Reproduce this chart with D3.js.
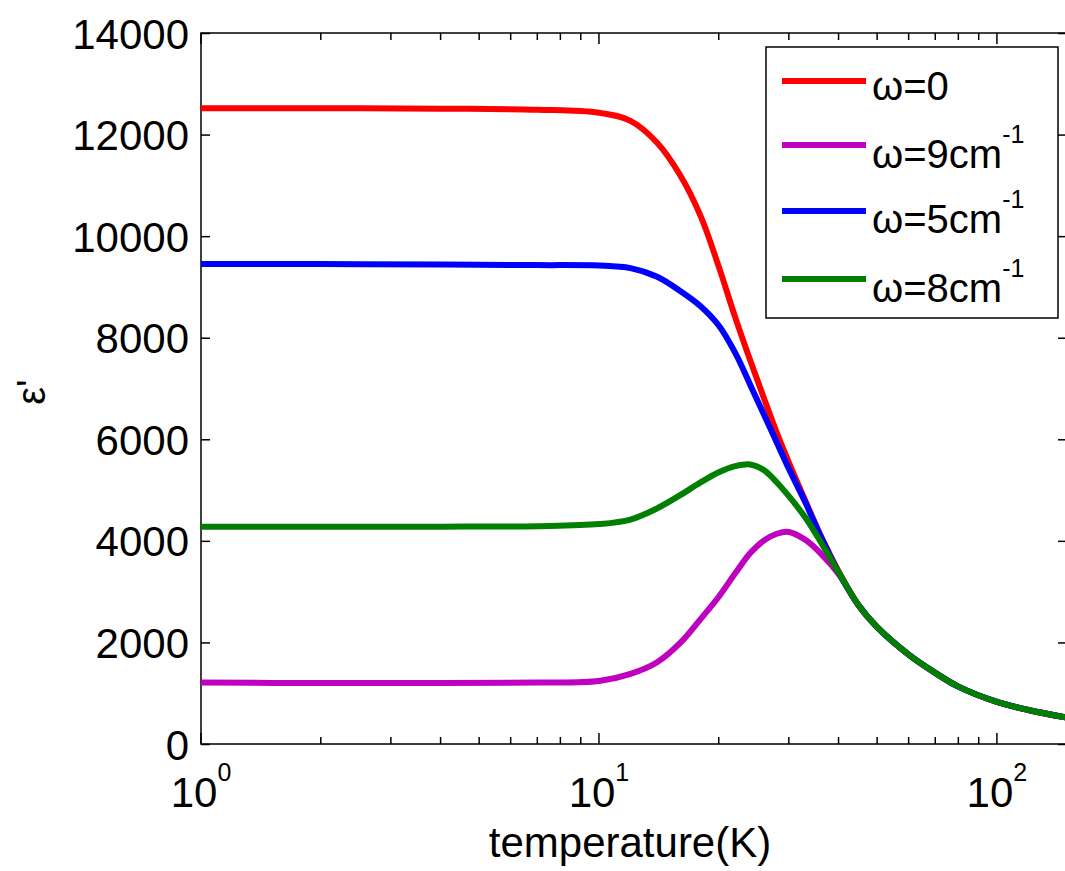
<!DOCTYPE html>
<html>
<head>
<meta charset="utf-8">
<script src="https://cdn.jsdelivr.net/npm/d3@7"></script>
<style>
  body { margin: 0; background: #fff; }
  svg { display: block; font-family: "Liberation Sans", Arial, sans-serif; }
  .axis path, .axis line { stroke: #000; stroke-width: 1.5; }
  .axis text { fill: #000; }
</style>
</head>
<body>
<svg id="chart" width="1065" height="871"></svg>
<script>
// temperatures (K), shared by every curve
const temperature = [1, 2, 4, 7, 10, 12, 14, 16, 18, 20, 22, 24, 26, 28, 30, 33, 36, 40, 45, 50, 60, 70, 80, 100, 120, 150];

// epsilon' for each frequency
const eps_w0 = [12520, 12520, 12510, 12490, 12430, 12270, 11840, 11200, 10400, 9400, 8400, 7550, 6800, 6120, 5545, 4790, 4120, 3400, 2720, 2300, 1760, 1400, 1130, 830, 670, 520];
const eps_w9 = [1210, 1200, 1200, 1210, 1240, 1380, 1610, 1990, 2460, 2900, 3360, 3760, 4010, 4140, 4175, 4020, 3760, 3350, 2720, 2300, 1760, 1400, 1130, 830, 670, 520];
const eps_w5 = [9450, 9450, 9440, 9430, 9420, 9370, 9200, 8920, 8620, 8240, 7700, 7070, 6480, 5930, 5420, 4760, 4100, 3380, 2720, 2300, 1760, 1400, 1130, 830, 670, 520];
const eps_w8 = [4280, 4280, 4280, 4290, 4330, 4420, 4640, 4900, 5150, 5350, 5470, 5505, 5390, 5150, 4880, 4460, 3990, 3380, 2720, 2300, 1760, 1400, 1130, 830, 670, 520];

const seriesNames = ["ω=0", "ω=9cm", "ω=5cm", "ω=8cm"];
const seriesSup = ["", "-1", "-1", "-1"];
const seriesColors = ["#ff0000", "#bf00bf", "#0000ff", "#007f00"];
const seriesValues = [eps_w0, eps_w9, eps_w5, eps_w8];

const yTicks = [0, 2000, 4000, 6000, 8000, 10000, 12000, 14000];
const xMajor = [1, 10, 100];
const xExp = ["0", "1", "2"];

const svg = d3.select('#chart');

const LEFT = 201, RIGHT = 1067, TOP = 33, BOTTOM = 744;

const x = d3.scaleLog().domain([1, 150]).range([LEFT, RIGHT]);
const y = d3.scaleLinear().domain([0, 14000]).range([BOTTOM, TOP]);

// minor ticks of the log axis
const xMinor = [];
[1, 10, 100].forEach((d) => {
	for (let k = 2; k <= 9; k++) {
		if (d * k <= 150) xMinor.push(d * k);
	}
});

// frame
svg.append('rect')
	.attr('x', LEFT).attr('y', TOP)
	.attr('width', RIGHT - LEFT).attr('height', BOTTOM - TOP)
	.attr('fill', 'none').attr('stroke', '#000').attr('stroke-width', 1.5);

// y axes (ticks inward)
svg.append('g').attr('class', 'axis')
	.attr('transform', `translate(${LEFT},0)`)
	.call(d3.axisLeft(y).tickValues(yTicks).tickSizeInner(-9).tickSizeOuter(0).tickPadding(12).tickFormat(d3.format('d')))
	.call((g) => g.selectAll('text').attr('font-size', 42).attr('dy', '0.36em'))
	.call((g) => g.select('.domain').remove());

svg.append('g').attr('class', 'axis')
	.attr('transform', `translate(${RIGHT},0)`)
	.call(d3.axisRight(y).tickValues(yTicks).tickSizeInner(-9).tickSizeOuter(0).tickFormat(''))
	.call((g) => g.select('.domain').remove());

// x axes: major + minor ticks, bottom and top
[[BOTTOM, -1], [TOP, 1]].forEach(([yy, dir]) => {
	const g = svg.append('g').attr('class', 'axis');
	g.selectAll('line.major').data(xMajor).join('line')
		.attr('x1', (d) => x(d)).attr('x2', (d) => x(d))
		.attr('y1', yy).attr('y2', yy + dir * 11)
		.attr('stroke', '#000').attr('stroke-width', 1.5);
	g.selectAll('line.minor').data(xMinor).join('line')
		.attr('x1', (d) => x(d)).attr('x2', (d) => x(d))
		.attr('y1', yy).attr('y2', yy + dir * 7)
		.attr('stroke', '#000').attr('stroke-width', 1.5);
});

// x tick labels 10^n
const xl = svg.append('g').selectAll('text').data(xMajor).join('text')
	.attr('x', (d) => x(d)).attr('y', 807)
	.attr('text-anchor', 'middle')
	.attr('font-size', 42);
xl.append('tspan').text('10');
xl.append('tspan').attr('dy', -26).attr('font-size', 25).text((d, i) => xExp[i]);

// axis titles
svg.append('text')
	.attr('x', (LEFT + RIGHT) / 2 - 4).attr('y', 857)
	.attr('text-anchor', 'middle')
	.attr('font-size', 42)
	.text('temperature(K)');

svg.append('text')
	.attr('transform', 'translate(45,392) rotate(-90)')
	.attr('text-anchor', 'middle')
	.attr('font-size', 40)
	.text("ε'");

// curves
const line = d3.line()
	.x((d) => x(d[0]))
	.y((d) => y(d[1]))
	.curve(d3.curveCatmullRom.alpha(0.5));

seriesValues.forEach((vals, i) => {
	svg.append('path')
		.datum(temperature.map((t, j) => [t, vals[j]]))
		.attr('fill', 'none')
		.attr('stroke', seriesColors[i])
		.attr('stroke-width', 6)
		.attr('d', line);
});

// legend
const LEG_X = 766, LEG_Y = 47;
svg.append('rect')
	.attr('x', LEG_X).attr('y', LEG_Y)
	.attr('width', 292).attr('height', 271)
	.attr('fill', '#fff').attr('stroke', '#000').attr('stroke-width', 1.5);

const legLineY = [81, 145, 211, 279];
const legTextY = [100, 168, 233, 302];

seriesNames.forEach((name, i) => {
	svg.append('line')
		.attr('x1', 782).attr('x2', 866)
		.attr('y1', legLineY[i]).attr('y2', legLineY[i])
		.attr('stroke', seriesColors[i]).attr('stroke-width', 6);
	const t = svg.append('text')
		.attr('x', 872).attr('y', legTextY[i])
		.attr('font-size', 40);
	t.append('tspan').text(name);
	if (seriesSup[i]) {
		t.append('tspan').attr('dy', -25).attr('font-size', 25).text(seriesSup[i]);
	}
});
</script>
</body>
</html>
